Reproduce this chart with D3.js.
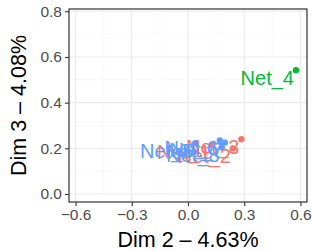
<!DOCTYPE html>
<html>
<head>
<meta charset="utf-8">
<script src="https://cdn.jsdelivr.net/npm/d3@7"></script>
<style>
  body { margin: 0; background: #fff; }
  text { font-family: "Liberation Sans", Arial, sans-serif; }
</style>
</head>
<body>
<div id="chart"></div>
<script>
// points per group (Dim 2, Dim 3)
var redNames = ["Net_1", "Net_2", "Net_3"];
var redX = [0.13, 0.24, 0.285];
var redY = [0.215, 0.20, 0.24];

var greenNames = ["Net_4"];
var greenX = [0.576];
var greenY = [0.542];

var blueNames = ["Net_5", "Net_6", "Net_7", "Net_8"];
var blueX = [0.04, 0.17, 0.197, 0.18];
var blueY = [0.222, 0.235, 0.225, 0.205];

var xTicks = [-0.6, -0.3, 0.0, 0.3, 0.6];
var yTicks = [0.0, 0.2, 0.4, 0.6, 0.8];
var xMinor = [-0.45, -0.15, 0.15, 0.45];
var yMinor = [0.1, 0.3, 0.5, 0.7];

var W = 313, H = 251;
var margin = {top: 9, right: 6, bottom: 49, left: 69};
var width = W - margin.left - margin.right,
    height = H - margin.top - margin.bottom;

var x = d3.scaleLinear().domain([-0.635, 0.635]).range([0, width]);
var y = d3.scaleLinear().domain([-0.035, 0.81]).range([height, 0]);

var svg = d3.select("#chart").append("svg")
    .attr("width", W).attr("height", H);
var g = svg.append("g")
    .attr("transform", "translate(" + margin.left + "," + margin.top + ")");

// grid
g.selectAll(".vminor").data(xMinor).enter().append("line")
    .attr("x1", d => x(d)).attr("x2", d => x(d)).attr("y1", 0).attr("y2", height)
    .attr("stroke", "#f3f3f3").attr("stroke-width", 0.6);
g.selectAll(".hminor").data(yMinor).enter().append("line")
    .attr("y1", d => y(d)).attr("y2", d => y(d)).attr("x1", 0).attr("x2", width)
    .attr("stroke", "#f3f3f3").attr("stroke-width", 0.6);
g.selectAll(".vmajor").data(xTicks).enter().append("line")
    .attr("x1", d => x(d)).attr("x2", d => x(d)).attr("y1", 0).attr("y2", height)
    .attr("stroke", "#ebebeb").attr("stroke-width", 1.1);
g.selectAll(".hmajor").data(yTicks).enter().append("line")
    .attr("y1", d => y(d)).attr("y2", d => y(d)).attr("x1", 0).attr("x2", width)
    .attr("stroke", "#ebebeb").attr("stroke-width", 1.1);

// axes
var xAxis = g.append("g")
    .attr("transform", "translate(0," + height + ")")
    .call(d3.axisBottom(x).tickValues(xTicks).tickFormat(d3.format(".1f")).tickSizeOuter(0).tickSize(4).tickPadding(3));
var yAxis = g.append("g")
    .call(d3.axisLeft(y).tickValues(yTicks).tickFormat(d3.format(".1f")).tickSizeOuter(0).tickSize(4).tickPadding(3));
[xAxis, yAxis].forEach(function(a) {
    a.select(".domain").remove();
    a.selectAll("line").attr("stroke", "#333").attr("stroke-width", 1.1);
    a.selectAll("text").attr("fill", "#4d4d4d").style("font-size", "15.5px")
        .style("font-family", "'Liberation Sans', Arial, sans-serif");
});
xAxis.selectAll("text").text(d => d3.format(".1f")(d).replace("-", "\u2212"));

// border
g.append("rect").attr("width", width).attr("height", height)
    .attr("fill", "none").attr("stroke", "#333").attr("stroke-width", 1.2);

function drawGroup(names, xs, ys, color) {
    var data = names.map(function(n, i) { return {name: n, x: xs[i], y: ys[i]}; });
    g.selectAll(null).data(data).enter().append("circle")
        .attr("cx", d => x(d.x)).attr("cy", d => y(d.y)).attr("r", 3.2)
        .attr("fill", color);
    return data;
}
function labelGroup(data, color) {
    g.selectAll(null).data(data).enter().append("text")
        .attr("x", d => x(d.x) - 2).attr("y", d => y(d.y) + 14.5)
        .attr("text-anchor", "end")
        .attr("fill", color)
        .style("font-size", "20px")
        .text(d => d.name);
}
var rd = drawGroup(redNames, redX, redY, "#F8766D");
var gd = drawGroup(greenNames, greenX, greenY, "#00BA38");
var bd = drawGroup(blueNames, blueX, blueY, "#619CFF");
labelGroup(rd, "#F8766D");
labelGroup(gd, "#00BA38");
labelGroup(bd, "#619CFF");

// axis titles
svg.append("text")
    .attr("x", margin.left + width / 2).attr("y", 247)
    .attr("text-anchor", "middle").style("font-size", "21.5px").attr("fill", "#000")
    .text("Dim 2 \u2013 4.63%");
svg.append("text")
    .attr("transform", "translate(" + 26 + "," + (margin.top + height / 2) + ") rotate(-90)")
    .attr("text-anchor", "middle").style("font-size", "21.5px").attr("fill", "#000")
    .text("Dim 3 \u2013 4.08%");
</script>
</body>
</html>
